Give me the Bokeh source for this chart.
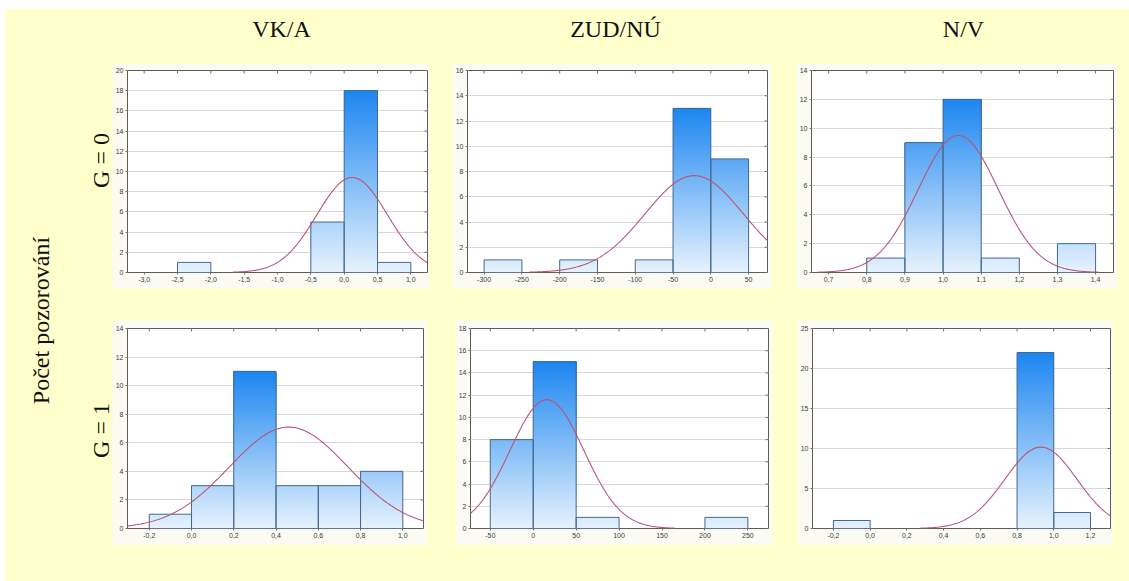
import numpy as np
from bokeh.plotting import figure
from bokeh.layouts import row, column
from bokeh.models import Spacer, FixedTicker, LinearAxis, Range1d
from bokeh.core.properties import value
from bokeh.embed import file_html
from bokeh.resources import INLINE

# ---------------- data ----------------
col_titles = ["VK/A", "ZUD/NÚ", "N/V"]
row_labels = ["G = 0", "G = 1"]
y_title = "Počet pozorování"

# VK/A, G = 0
vka0_left = [-2.5, -0.5, 0.0, 0.5]
vka0_counts = [1, 5, 18, 1]
vka0_width = 0.5
vka0_fit = (0.12, 0.53)            # mean, sd of fitted normal
vka0_xticks = [-3.0, -2.5, -2.0, -1.5, -1.0, -0.5, 0.0, 0.5, 1.0]
vka0_xlabels = ["-3,0", "-2,5", "-2,0", "-1,5", "-1,0", "-0,5", "0,0", "0,5", "1,0"]
vka0_yticks = [0, 2, 4, 6, 8, 10, 12, 14, 16, 18, 20]

# ZUD/NÚ, G = 0
zud0_left = [-300, -200, -100, -50, 0]
zud0_counts = [1, 1, 1, 13, 9]
zud0_width = 50
zud0_fit = (-22.0, 65.0)
zud0_xticks = [-300, -250, -200, -150, -100, -50, 0, 50]
zud0_xlabels = ["-300", "-250", "-200", "-150", "-100", "-50", "0", "50"]
zud0_yticks = [0, 2, 4, 6, 8, 10, 12, 14, 16]

# N/V, G = 0
nv0_left = [0.8, 0.9, 1.0, 1.1, 1.3]
nv0_counts = [1, 9, 12, 1, 2]
nv0_width = 0.1
nv0_fit = (1.04, 0.105)
nv0_xticks = [0.7, 0.8, 0.9, 1.0, 1.1, 1.2, 1.3, 1.4]
nv0_xlabels = ["0,7", "0,8", "0,9", "1,0", "1,1", "1,2", "1,3", "1,4"]
nv0_yticks = [0, 2, 4, 6, 8, 10, 12, 14]

# VK/A, G = 1
vka1_left = [-0.2, 0.0, 0.2, 0.4, 0.6, 0.8]
vka1_counts = [1, 3, 11, 3, 3, 4]
vka1_width = 0.2
vka1_fit = (0.46, 0.281)
vka1_xticks = [-0.2, 0.0, 0.2, 0.4, 0.6, 0.8, 1.0]
vka1_xlabels = ["-0,2", "0,0", "0,2", "0,4", "0,6", "0,8", "1,0"]
vka1_yticks = [0, 2, 4, 6, 8, 10, 12, 14]

# ZUD/NÚ, G = 1
zud1_left = [-50, 0, 50, 200]
zud1_counts = [8, 15, 1, 1]
zud1_width = 50
zud1_fit = (16.0, 43.0)
zud1_xticks = [-50, 0, 50, 100, 150, 200, 250]
zud1_xlabels = ["-50", "0", "50", "100", "150", "200", "250"]
zud1_yticks = [0, 2, 4, 6, 8, 10, 12, 14, 16, 18]

# N/V, G = 1
nv1_left = [-0.2, 0.8, 1.0]
nv1_counts = [1, 22, 2]
nv1_width = 0.2
nv1_fit = (0.93, 0.196)
nv1_xticks = [-0.2, 0.0, 0.2, 0.4, 0.6, 0.8, 1.0, 1.2]
nv1_xlabels = ["-0,2", "0,0", "0,2", "0,4", "0,6", "0,8", "1,0", "1,2"]
nv1_yticks = [0, 5, 10, 15, 20, 25]

# ---------------- styling ----------------
PAGE_YELLOW = "#FFFFCC"
CARD = "#FBFBF3"
BAR_LOW = np.array([230, 242, 254])
BAR_HIGH = np.array([28, 134, 240])
BAR_EDGE = "#46698F"
CURVE = "#B9566E"
FRAME = "#5C5C5C"
GRID = "#D9D9D9"
TICK = "#707070"
TICK_FONT = "Liberation Sans"
SERIF = "Liberation Serif"


def to_hex(rgb):
    r, g, b = (int(round(v)) for v in rgb)
    return f"#{r:02x}{g:02x}{b:02x}"


def histogram(left, counts, width, fit, xticks, xlabels, yticks,
              x_range, curve_span, size, borders):
    w, h = size
    bl, br, bt, bb = borders
    ymax = yticks[-1]
    p = figure(width=w, height=h, output_backend="svg", toolbar_location=None,
               x_range=Range1d(*x_range), y_range=Range1d(0, ymax),
               min_border_left=bl, min_border_right=br,
               min_border_top=bt, min_border_bottom=bb,
               x_axis_location=None, y_axis_location=None)
    p.background_fill_color = "white"
    p.border_fill_color = CARD
    p.outline_line_color = FRAME
    p.outline_line_width = 1
    p.xgrid.visible = False
    p.ygrid.ticker = FixedTicker(ticks=yticks)
    p.ygrid.grid_line_color = GRID

    # gradient-filled bars: overlapping layers from each level up to the bar top,
    # so the shade deepens with height without seams between layers
    top = max(counts)
    n_layers = 90
    step = top / n_layers
    sl, sr, sb, st, sc = [], [], [], [], []
    for x0, c in zip(left, counts):
        k = int(round(c / step))
        for i in range(k):
            y0 = i * step
            f = (y0 + step / 2) / top
            sl.append(x0)
            sr.append(x0 + width)
            sb.append(y0)
            st.append(c)
            sc.append(to_hex(BAR_LOW + (BAR_HIGH - BAR_LOW) * min(f, 1.0)))
    p.quad(left=sl, right=sr, bottom=sb, top=st, fill_color=sc, line_color=None)
    p.quad(left=left, right=[x + width for x in left], bottom=0, top=counts,
           fill_alpha=0, line_color=BAR_EDGE, line_width=1)

    # fitted normal curve scaled to counts
    mean, sd = fit
    n = sum(counts)
    xs = np.linspace(curve_span[0], curve_span[1], 300)
    ys = n * width / (sd * np.sqrt(2 * np.pi)) * np.exp(-0.5 * ((xs - mean) / sd) ** 2)
    p.line(xs, ys, line_color=CURVE, line_width=1.1)

    # inward tick marks along the top and right edges of the frame
    p.scatter(x=xticks, y=[ymax] * len(xticks), marker="dash", angle=np.pi / 2,
              size=6, line_color=TICK, line_width=1)
    p.scatter(x=[x_range[1]] * len(yticks), y=yticks, marker="dash",
              size=6, line_color=TICK, line_width=1)

    # labelled axes on the left and bottom
    label_map = {float(t): s for t, s in zip(xticks, xlabels)}
    xb = LinearAxis(ticker=FixedTicker(ticks=xticks), major_label_overrides=label_map)
    yl = LinearAxis(ticker=FixedTicker(ticks=yticks))
    for ax in (xb, yl):
        ax.axis_line_color = None
        ax.major_tick_line_color = TICK
        ax.major_tick_out = 2
        ax.major_tick_in = 0
        ax.minor_tick_line_color = None
        ax.major_label_standoff = 2
        ax.major_label_text_font = TICK_FONT
        ax.major_label_text_font_size = "7px"
        ax.major_label_text_color = "#3A3A3A"
    p.add_layout(xb, "below")
    p.add_layout(yl, "left")
    return p


f00 = histogram(vka0_left, vka0_counts, vka0_width, vka0_fit, vka0_xticks, vka0_xlabels,
                vka0_yticks, (-3.25, 1.25), (-1.67, 1.25), (317, 225), (13, 2, 6, 16))
f01 = histogram(zud0_left, zud0_counts, zud0_width, zud0_fit, zud0_xticks, zud0_xlabels,
                zud0_yticks, (-322, 75), (-240, 75), (320, 225), (14, 5, 7, 13))
f02 = histogram(nv0_left, nv0_counts, nv0_width, nv0_fit, nv0_xticks, nv0_xlabels,
                nv0_yticks, (0.655, 1.447), (0.67, 1.41), (321, 225), (15, 4, 7, 15))
f10 = histogram(vka1_left, vka1_counts, vka1_width, vka1_fit, vka1_xticks, vka1_xlabels,
                vka1_yticks, (-0.303, 1.098), (-0.303, 1.098), (315, 225), (11, 4, 4, 17))
f11 = histogram(zud1_left, zud1_counts, zud1_width, zud1_fit, zud1_xticks, zud1_xlabels,
                zud1_yticks, (-73, 274), (-73, 165), (318, 225), (13, 5, 8, 13))
f12 = histogram(nv1_left, nv1_counts, nv1_width, nv1_fit, nv1_xticks, nv1_xlabels,
                nv1_yticks, (-0.314, 1.309), (0.27, 1.309), (316, 225), (15, 3, 5, 13))


def decor(width, height):
    d = figure(width=width, height=height, output_backend="svg", toolbar_location=None,
               x_range=Range1d(0, width), y_range=Range1d(0, height),
               min_border=0, x_axis_location=None, y_axis_location=None)
    d.background_fill_color = PAGE_YELLOW
    d.border_fill_color = PAGE_YELLOW
    d.outline_line_color = None
    d.grid.visible = False
    return d


# column headings (x measured from the left of the histogram block)
header = decor(1017, 54)
header.text(x=[281 - 112, 615 - 112, 963 - 112], y=[54 - 19] * 3, text=col_titles,
            text_font=value(SERIF), text_font_size="24px", text_color="#111111",
            text_align="center", text_baseline="middle")

# left labels, rotated
side = decor(107, 572)
side.text(x=[40 - 5], y=[581 - 320], text=[y_title], angle=np.pi / 2,
          text_font=value(SERIF), text_font_size="24px", text_color="#111111",
          text_align="center", text_baseline="middle")
side.text(x=[100 - 5, 100 - 5], y=[581 - 160, 581 - 430], text=row_labels, angle=np.pi / 2,
          text_font=value(SERIF), text_font_size="24px", text_color="#111111",
          text_align="center", text_baseline="middle")

row1 = row(f00, Spacer(width=23), f01, Spacer(width=24), f02)
row2 = row(f10, Spacer(width=28), f11, Spacer(width=24), f12)
block = column(header, row1, Spacer(height=32), row2, Spacer(height=36),
               styles={"background-color": PAGE_YELLOW})
yellow = row(side, block, styles={"background-color": PAGE_YELLOW})
page = column(Spacer(height=9, width=1129), row(Spacer(width=5, height=572), yellow))

with open("out.html", "w") as fh:
    fh.write(file_html(page, INLINE))
